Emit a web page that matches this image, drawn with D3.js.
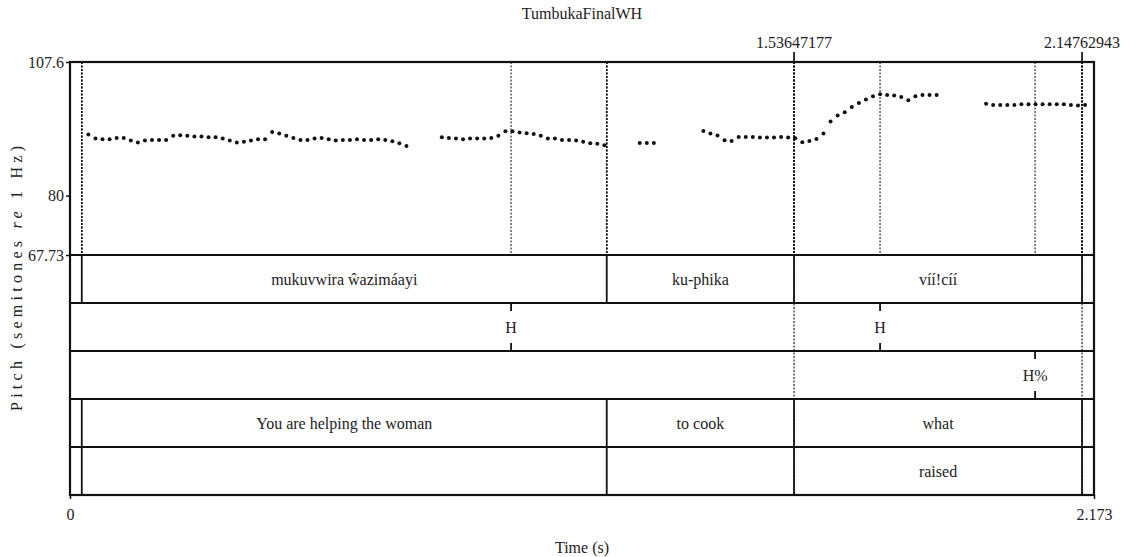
<!DOCTYPE html>
<html>
<head>
<meta charset="utf-8">
<script src="https://cdn.jsdelivr.net/npm/d3@7"></script>
<style>
  body { margin: 0; background: #fff; }
  svg text { font-family: "Liberation Serif", "Times New Roman", Times, "DejaVu Serif", serif; font-size: 16px; fill: #222; }
</style>
</head>
<body>
<div id="chart"></div>
<script>
// Size of the page
var width = 1130;
var height = 557;

// Title and axis texts
var chartTitle = "TumbukaFinalWH";
var xLabel = "Time (s)";
var timeStart = 0;
var timeEnd = 2.173;
var pitchMin = 67.73;
var pitchMax = 107.6;
var yTicks = [67.73, 80, 107.6];
var xTicks = [0, 2.173];

// Pitch track (s, semitones re 1 Hz)
var pitchTimes = [
  0.039, 0.054, 0.069, 0.084, 0.099, 0.114, 0.129, 0.144, 0.159, 0.174,
  0.189, 0.204, 0.219, 0.234, 0.249, 0.264, 0.279, 0.294, 0.309, 0.324,
  0.339, 0.354, 0.369, 0.384, 0.399, 0.414, 0.429, 0.444, 0.459, 0.474,
  0.489, 0.504, 0.519, 0.534, 0.549, 0.564, 0.579, 0.594, 0.609, 0.624,
  0.639, 0.654, 0.669, 0.684, 0.699, 0.714,
  0.789, 0.804, 0.819, 0.834, 0.849, 0.864, 0.879, 0.894, 0.909, 0.924,
  0.939, 0.954, 0.969, 0.984, 0.999, 1.014, 1.029, 1.044, 1.059, 1.074,
  1.089, 1.104, 1.119, 1.134,
  1.209, 1.224, 1.239,
  1.344, 1.359, 1.374, 1.389, 1.404, 1.419, 1.434, 1.449, 1.464, 1.479,
  1.494, 1.509, 1.524, 1.539, 1.554, 1.569, 1.584, 1.599, 1.614, 1.629,
  1.644, 1.659, 1.674, 1.689, 1.704, 1.719, 1.734, 1.749, 1.764, 1.779,
  1.794, 1.809, 1.824, 1.839,
  1.944, 1.959, 1.974, 1.989, 2.004, 2.019, 2.034, 2.049, 2.064, 2.079,
  2.094, 2.109, 2.124, 2.139, 2.154
];
var pitchValues = [
  92.62, 91.80, 91.66, 91.66, 91.92, 91.92, 91.39, 90.97, 91.39, 91.51,
  91.51, 91.51, 92.34, 92.48, 92.34, 92.21, 92.21, 92.07, 92.07, 91.80,
  91.39, 90.97, 91.10, 91.39, 91.66, 91.66, 93.16, 92.83, 92.34, 91.92,
  91.51, 91.51, 91.80, 91.92, 91.66, 91.39, 91.51, 91.51, 91.66, 91.51,
  91.51, 91.66, 91.51, 91.24, 90.83, 90.27,
  92.07, 91.92, 91.80, 91.66, 91.80, 91.80, 91.80, 91.92, 92.34, 93.31,
  93.31, 93.04, 92.89, 92.75, 92.34, 91.80, 91.80, 91.51, 91.51, 91.39,
  91.10, 90.83, 90.69, 90.42,
  90.89, 90.89, 90.89,
  93.37, 92.83, 92.42, 91.45, 91.30, 92.13, 92.13, 92.13, 92.01, 92.01,
  92.01, 92.13, 92.01, 91.86, 91.04, 91.30, 91.70, 92.83, 95.31, 96.54,
  97.22, 98.32, 99.14, 99.84, 100.52, 100.94, 100.79, 100.67, 100.38, 99.70,
  100.52, 100.79, 100.79, 100.79,
  98.95, 98.73, 98.73, 98.73, 98.73, 98.87, 98.87, 98.87, 98.87, 98.87,
  98.87, 98.87, 98.73, 98.60, 98.73
];

// TextGrid tiers
var wordBounds = [0, 0.025, 1.139, 1.53647177, 2.14762943, 2.173];
var wordLabels = ["", "mukuvwira ŵazimáayi", "ku-phika", "víí!cíí", ""];
var toneTimes = [0.936, 1.719];
var toneLabels = ["H", "H"];
var boundaryToneTimes = [2.048];
var boundaryToneLabels = ["H%"];
var glossBounds = [0, 0.025, 1.139, 1.53647177, 2.14762943, 2.173];
var glossLabels = ["", "You are helping the woman", "to cook", "what", ""];
var noteBounds = [0, 0.025, 1.139, 1.53647177, 2.14762943, 2.173];
var noteLabels = ["", "", "", "raised", ""];

// Marked times on top
var markTimes = [1.53647177, 2.14762943];
var markLabels = ["1.53647177", "2.14762943"];

var svg;
var serif = "'Liberation Serif', 'Times New Roman', Times, 'DejaVu Serif', serif";

function createSVG(width, height) {
  return d3.select("#chart")
    .append("svg")
    .attr("width", width)
    .attr("height", height)
    .style("font-family", serif);
}

function main() {
  svg = createSVG(width, height);

  var left = 70, right = 1094;
  var top = 62, pitchBottom = 255, tierH = 48;

  var tiers = [
    { type: "interval", bounds: wordBounds, labels: wordLabels },
    { type: "point", times: toneTimes, labels: toneLabels },
    { type: "point", times: boundaryToneTimes, labels: boundaryToneLabels },
    { type: "interval", bounds: glossBounds, labels: glossLabels },
    { type: "interval", bounds: noteBounds, labels: noteLabels }
  ];
  var bottom = pitchBottom + tiers.length * tierH;

  var x = d3.scaleLinear().domain([timeStart, timeEnd]).range([left, right]);
  var y = d3.scaleLinear().domain([pitchMin, pitchMax]).range([pitchBottom, top]);

  // dotted lines over the pitch area for every boundary / point
  var dotted = svg.append("g");
  tiers.forEach(function(t) {
    var ts = t.type === "interval" ? t.bounds.slice(1, -1) : t.times;
    dotted.selectAll(null)
      .data(ts)
      .enter()
      .append("line")
      .attr("x1", function(d) { return x(d); })
      .attr("x2", function(d) { return x(d); })
      .attr("y1", top)
      .attr("y2", pitchBottom)
      .style("stroke", "#000")
      .style("stroke-opacity", 0.65)
      .style("stroke-width", 1.5)
      .style("stroke-dasharray", "2,1.5");
  });

  // marked times: tick above frame, dotted line all the way down
  var marks = svg.append("g");
  marks.selectAll("line.tick")
    .data(markTimes)
    .enter()
    .append("line")
    .attr("class", "tick")
    .attr("x1", function(d) { return x(d); })
    .attr("x2", function(d) { return x(d); })
    .attr("y1", top - 10)
    .attr("y2", top)
    .style("stroke", "#000")
    .style("stroke-width", 1.6);
  marks.selectAll("line.dot")
    .data(markTimes)
    .enter()
    .append("line")
    .attr("class", "dot")
    .attr("x1", function(d) { return x(d); })
    .attr("x2", function(d) { return x(d); })
    .attr("y1", top)
    .attr("y2", bottom)
    .style("stroke", "#000")
    .style("stroke-opacity", 0.7)
    .style("stroke-width", 1.5)
    .style("stroke-dasharray", "2,1.5");
  marks.selectAll("text")
    .data(markLabels)
    .enter()
    .append("text")
    .attr("x", function(d, i) { return x(markTimes[i]); })
    .attr("y", top - 14)
    .attr("text-anchor", "middle")
    .style("font-family", serif)
    .text(function(d) { return d; });

  // pitch dots
  svg.append("g")
    .selectAll("circle")
    .data(pitchTimes)
    .enter()
    .append("circle")
    .attr("cx", function(d) { return x(d); })
    .attr("cy", function(d, i) { return y(pitchValues[i]); })
    .attr("r", 2)
    .style("fill", "#111");

  // tiers
  tiers.forEach(function(t, k) {
    var t0 = pitchBottom + k * tierH;
    var g = svg.append("g");
    if (t.type === "interval") {
      g.selectAll("line")
        .data(t.bounds.slice(1, -1))
        .enter()
        .append("line")
        .attr("x1", function(d) { return x(d); })
        .attr("x2", function(d) { return x(d); })
        .attr("y1", t0)
        .attr("y2", t0 + tierH)
        .style("stroke", "#111")
        .style("stroke-width", 1.8);
      g.selectAll("text")
        .data(t.labels)
        .enter()
        .append("text")
        .attr("x", function(d, i) { return x((t.bounds[i] + t.bounds[i + 1]) / 2); })
        .attr("y", t0 + tierH / 2)
        .attr("dy", "0.35em")
        .attr("text-anchor", "middle")
        .style("font-family", serif)
        .text(function(d) { return d; });
    } else {
      t.times.forEach(function(tm, i) {
        g.append("line")
          .attr("x1", x(tm)).attr("x2", x(tm))
          .attr("y1", t0).attr("y2", t0 + 8)
          .style("stroke", "#111").style("stroke-width", 1.8);
        g.append("line")
          .attr("x1", x(tm)).attr("x2", x(tm))
          .attr("y1", t0 + tierH - 8).attr("y2", t0 + tierH)
          .style("stroke", "#111").style("stroke-width", 1.8);
        g.append("text")
          .attr("x", x(tm))
          .attr("y", t0 + tierH / 2)
          .attr("dy", "0.35em")
          .attr("text-anchor", "middle")
          .style("font-family", serif)
          .text(t.labels[i]);
      });
    }
    // tier separator
    svg.append("line")
      .attr("x1", left).attr("x2", right)
      .attr("y1", t0).attr("y2", t0)
      .style("stroke", "#111").style("stroke-width", 2.2);
  });

  // frame
  svg.append("rect")
    .attr("x", left)
    .attr("y", top)
    .attr("width", right - left)
    .attr("height", bottom - top)
    .style("fill", "none")
    .style("stroke", "#111")
    .style("stroke-width", 2.2);

  // y axis
  var yAxis = svg.append("g")
    .attr("transform", "translate(" + left + ",0)")
    .call(d3.axisLeft(y).tickValues(yTicks).tickSize(4).tickPadding(2)
      .tickFormat(function(d) { return String(d); }));
  yAxis.attr("font-family", null);
  yAxis.select(".domain").remove();
  yAxis.selectAll("text").style("font-size", "16px").style("font-family", serif).style("fill", "#222");
  yAxis.selectAll("line").style("stroke", "#111").style("stroke-width", 1.5);

  // x axis
  var xAxis = svg.append("g")
    .attr("transform", "translate(0," + bottom + ")")
    .call(d3.axisBottom(x).tickValues(xTicks).tickSize(4).tickPadding(10)
      .tickFormat(function(d) { return String(d); }));
  xAxis.attr("font-family", null);
  xAxis.select(".domain").remove();
  xAxis.selectAll("text").style("font-size", "16px").style("font-family", serif).style("fill", "#222");
  xAxis.selectAll("line").style("stroke", "#111").style("stroke-width", 1.5);

  // title
  svg.append("text")
    .attr("x", (left + right) / 2)
    .attr("y", 19)
    .attr("text-anchor", "middle")
    .style("font-family", serif)
    .text(chartTitle);

  // x label
  svg.append("text")
    .attr("x", (left + right) / 2)
    .attr("y", 553)
    .attr("text-anchor", "middle")
    .style("font-family", serif)
    .text(xLabel);

  // y label with italic "re"
  var yl = svg.append("text")
    .attr("transform", "translate(22," + ((top + bottom) / 2) + ") rotate(-90)")
    .attr("text-anchor", "middle")
    .attr("textLength", 265)
    .attr("lengthAdjust", "spacing")
    .style("font-family", serif);
  yl.append("tspan").text("Pitch (semitones ");
  yl.append("tspan").style("font-style", "italic").text("re");
  yl.append("tspan").text(" 1 Hz)");
}

window.onload = function() {
  main();
};
</script>
</body>
</html>
